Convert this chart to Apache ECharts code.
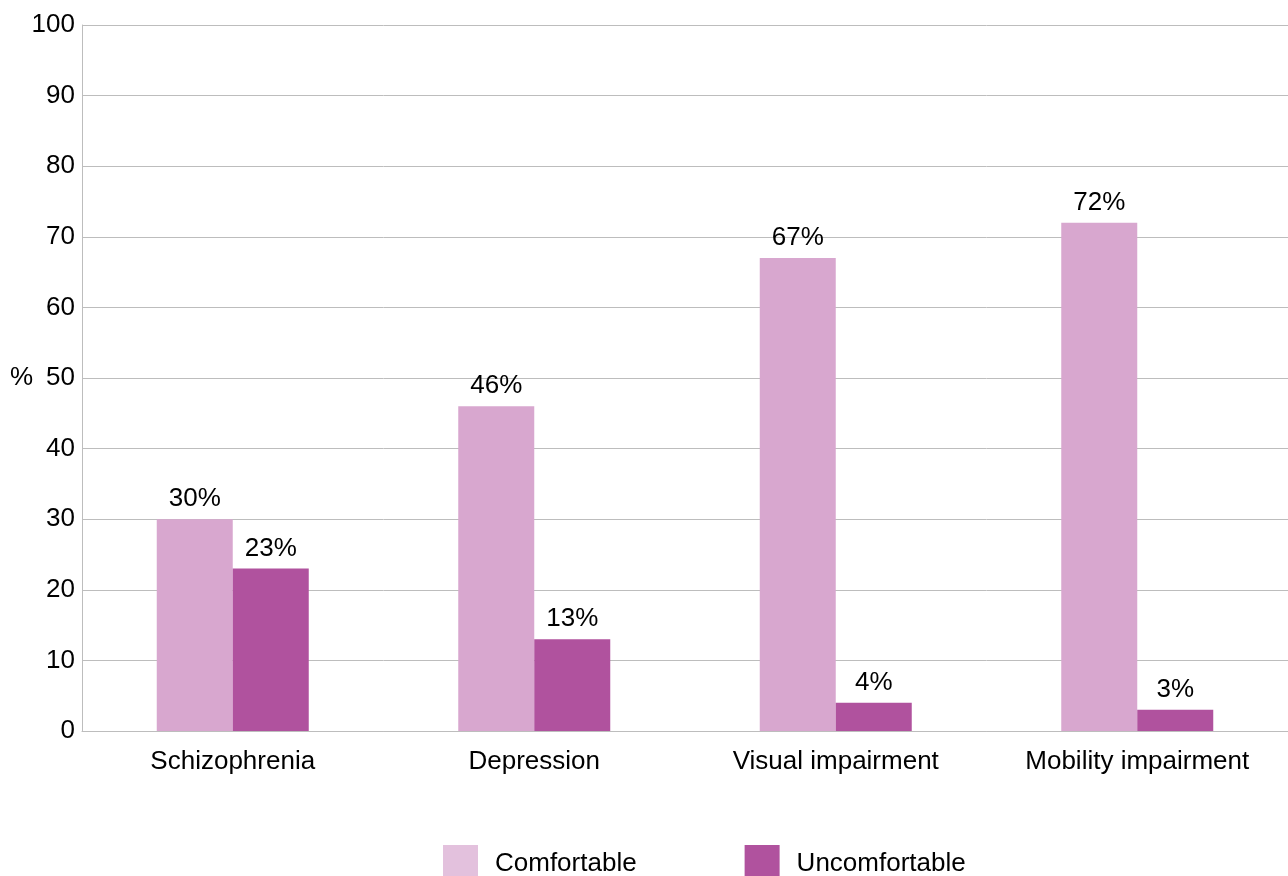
<!DOCTYPE html>
<html>
<head>
<meta charset="utf-8">
<script src="https://cdn.jsdelivr.net/npm/echarts@6/dist/echarts.min.js"></script>
<style>html,body{margin:0;padding:0;background:#fff}#c{width:1288px;height:876px}</style>
</head>
<body>
<div id="c"></div>
<script>
const categories = ['Schizophrenia', 'Depression', 'Visual impairment', 'Mobility impairment'];
const comfortable = [30, 46, 67, 72];
const uncomfortable = [23, 13, 4, 3];
const seriesNames = ['Comfortable', 'Uncomfortable'];

const FONT = '"Liberation Sans", Arial, Helvetica, sans-serif';
const FS = 26;
const chart = echarts.init(document.getElementById('c'), null, {renderer: 'canvas'});
const labelCfg = {show: true, position: 'top', distance: 7, color: '#000', fontSize: FS, fontFamily: FONT, formatter: p => p.value + '%'};
chart.setOption({
  animation: false,
  textStyle: {fontFamily: FONT},
  grid: {left: 82, right: 0, top: 25, bottom: 145, containLabel: false},
  legend: {
    left: 443, top: 845, padding: 0,
    itemWidth: 35, itemHeight: 37, itemGap: 108,
    textStyle: {fontSize: FS, color: '#000', fontFamily: FONT, padding: [0, 0, 0, 12]},
    data: [
      {name: seriesNames[0], icon: 'rect', itemStyle: {color: '#e3c1dd'}},
      {name: seriesNames[1], icon: 'rect', itemStyle: {color: '#b0529e'}}
    ]
  },
  xAxis: {
    type: 'category', data: categories,
    axisLine: {lineStyle: {color: '#bdbdbd', width: 1}},
    axisTick: {show: false},
    axisLabel: {color: '#000', fontSize: FS, fontFamily: FONT, margin: 18}
  },
  yAxis: {
    type: 'value', min: 0, max: 100, interval: 10,
    name: '%', nameLocation: 'middle', nameRotate: 0, nameGap: 49, nameMoveOverlap: false,
    nameTextStyle: {color: '#000', fontSize: FS, fontFamily: FONT},
    axisLine: {show: true, lineStyle: {color: '#bdbdbd', width: 1}},
    axisTick: {show: false},
    splitLine: {lineStyle: {color: '#bdbdbd', width: 1}},
    axisLabel: {color: '#000', fontSize: FS, fontFamily: FONT, margin: 7}
  },
  series: [
    {name: seriesNames[0], type: 'bar', data: comfortable, barWidth: 76, barGap: '0%',
     itemStyle: {color: '#d8a7cf'}, label: labelCfg},
    {name: seriesNames[1], type: 'bar', data: uncomfortable, barWidth: 76, barGap: '0%',
     itemStyle: {color: '#b0529e'}, label: labelCfg}
  ]
});
</script>
</body>
</html>
